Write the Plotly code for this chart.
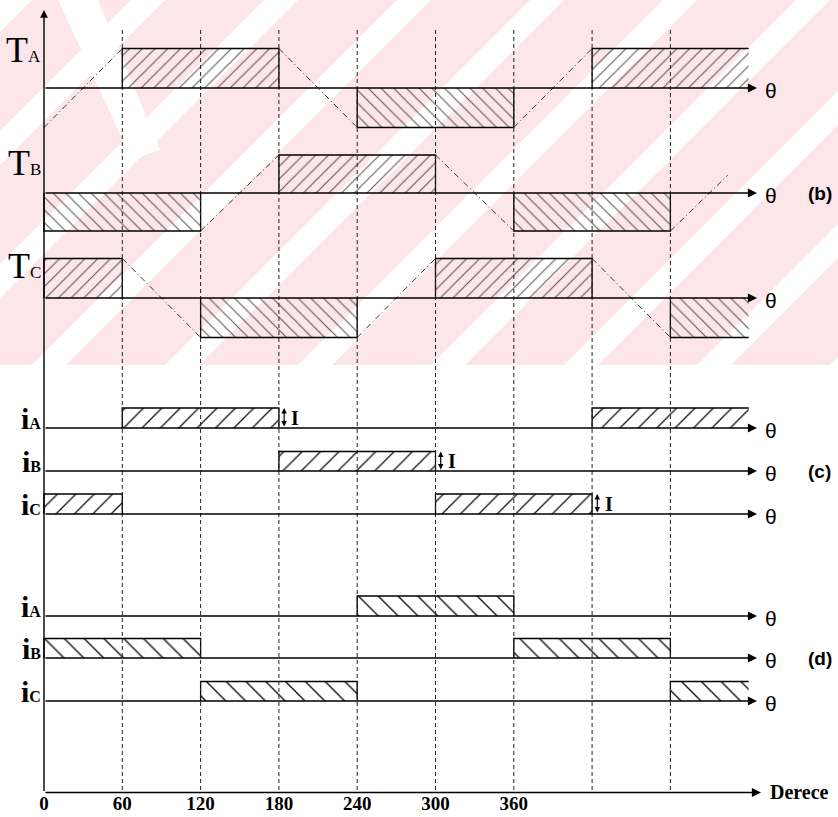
import plotly.graph_objects as go

# ---------------- data ----------------
tick_vals = [0, 60, 120, 180, 240, 300, 360]
tick_text = ["0", "60", "120", "180", "240", "300", "360"]
sector_lines = [60, 120, 180, 240, 300, 360, 420, 480]
theta_end = 540

# trapezoidal waveforms: breakpoints (deg) and normalized level
TA_theta = [0, 60, 180, 240, 360, 420, 540]
TA_level = [-1, 1, 1, -1, -1, 1, 1]
TB_theta = [0, 120, 180, 300, 360, 480, 524]
TB_level = [-1, -1, 1, 1, -1, -1, 0.47]
TC_theta = [0, 60, 120, 240, 300, 420, 480, 540]
TC_level = [1, 1, -1, -1, 1, 1, -1, -1]

# phase currents, on/off per 60-degree sector
sector_start = [0, 60, 120, 180, 240, 300, 360, 420, 480]
iA_c = [0, 1, 1, 0, 0, 0, 0, 1, 1]
iB_c = [0, 0, 0, 1, 1, 0, 0, 0, 0]
iC_c = [1, 0, 0, 0, 0, 1, 1, 0, 0]
iA_d = [0, 0, 0, 0, 1, 1, 0, 0, 0]
iB_d = [1, 1, 0, 0, 0, 0, 1, 1, 0]
iC_d = [0, 0, 1, 1, 0, 0, 0, 0, 1]
I_marks_c = [180, 300, 420]

# ---------------- geometry / style ----------------
W, H = 838, 817
B_MARGIN = 24
PLOT_H = H - B_MARGIN
X0_PX = 44
PX_PER_DEG = 1.305


def px2deg(px):
    return (px - X0_PX) / PX_PER_DEG


T_rows = [("A", TA_theta, TA_level, 88, 39.5, 50),
          ("B", TB_theta, TB_level, 193, 38, 163),
          ("C", TC_theta, TC_level, 298, 39.5, 266)]
c_rows = [("A", iA_c, 428, 20), ("B", iB_c, 471, 19.5), ("C", iC_c, 514, 20)]
d_rows = [("A", iA_d, 616, 20), ("B", iB_d, 658, 19.5), ("C", iC_d, 701, 19.5)]
axis_y = PLOT_H - 0.5
arrow_tip = px2deg(757)
theta_lbl_x = px2deg(763)
side_lbl_x = px2deg(806)
label_right = px2deg(43)

SERIF = "Liberation Serif"
SANS = "Liberation Sans"

fig = go.Figure()
shapes = []
ann = []

# ---------- faint pink watermark ----------
def dx(px):
    return px2deg(px)

PINK = "#fce6ea"
WM_H = 365
shapes.append(dict(type="rect", xref="x", yref="y", x0=dx(0), x1=dx(W), y0=0, y1=WM_H,
                   fillcolor=PINK, line=dict(width=0), layer="below"))
for k in range(-1, 9):
    a = 131 + 133 * k
    w = 34
    path = "M{},{} L{},{} L{},{} L{},{} Z".format(
        dx(a), 0, dx(a + w), 0, dx(a + w - WM_H), WM_H, dx(a - WM_H), WM_H)
    shapes.append(dict(type="path", xref="x", yref="y", path=path,
                       fillcolor="white", line=dict(width=0), layer="below"))
# left "\" white band
path = "M{},{} L{},{} L{},{} L{},{} Z".format(dx(58), 0, dx(98), 0, dx(160), 150, dx(132), 160)
shapes.append(dict(type="path", xref="x", yref="y", path=path,
                   fillcolor="white", line=dict(width=0), layer="below"))


def add_line(xs, ys, color="black", width=1.3, dash="solid"):
    fig.add_trace(go.Scatter(x=xs, y=ys, mode="lines",
                             line=dict(color=color, width=width, dash=dash),
                             hoverinfo="skip", showlegend=False))


def add_box(x0, x1, base, top, shape, size, solidity, fg, lw=1.3):
    fig.add_trace(go.Scatter(
        x=[x0, x1, x1, x0, x0], y=[base, base, top, top, base], mode="lines",
        line=dict(width=0, color="rgba(0,0,0,0)"), fill="toself",
        fillcolor="rgba(0,0,0,0)",
        fillpattern=dict(shape=shape, size=size, solidity=solidity,
                         fgcolor=fg, bgcolor="rgba(0,0,0,0)"),
        hoverinfo="skip", showlegend=False))
    xs = [x0, x0, x1]
    ys = [base, top, top]
    if x1 < theta_end:
        xs.append(x1)
        ys.append(base)
    add_line(xs, ys, width=lw)


def runs(values, starts, step=60):
    out, cur = [], None
    for s, v in zip(starts, values):
        if v:
            if cur is None:
                cur = [s, s + step]
            else:
                cur[1] = s + step
        else:
            if cur:
                out.append(tuple(cur))
                cur = None
    if cur:
        out.append(tuple(cur))
    return out


def arrow(x0, y0, x1, y1, width=1.4, size=1.3, side="end"):
    ann.append(dict(x=x1, y=y1, ax=x0, ay=y0, xref="x", yref="y", axref="x", ayref="y",
                    showarrow=True, arrowhead=2, arrowsize=size, arrowwidth=width,
                    arrowcolor="black", arrowside=side, text="", standoff=0,
                    startstandoff=0))


def text(x, y, t, size, family=SERIF, xanchor="left", yanchor="middle", weight="normal"):
    ann.append(dict(x=x, y=y, xref="x", yref="y", text=t, showarrow=False,
                    xanchor=xanchor, yanchor=yanchor,
                    font=dict(family=family, size=size, color="black", weight=weight)))


# ---------- (b) trapezoids ----------
for name, th, lv, base, amp, lbl_y in T_rows:
    for i in range(len(th) - 1):
        x0, x1, l0, l1 = th[i], th[i + 1], lv[i], lv[i + 1]
        if l0 == l1:
            add_box(x0, x1, base, base - amp * l0, "/" if l0 > 0 else "\\",
                    9, 0.13, "rgba(30,30,30,0.7)")
        else:
            add_line([x0, x1], [base - amp * l0, base - amp * l1],
                     color="#333", width=1, dash="6px,3px,1px,3px")
    arrow(0, base, arrow_tip, base)
    text(theta_lbl_x, base + 2, "θ", 21, family=SANS)
    text(label_right, lbl_y, "T<span style='font-size:17px'>" + name + "</span>", 36,
         xanchor="right")

# ---------- (c) currents ----------
for name, vals, base, amp in c_rows:
    for x0, x1 in runs(vals, sector_start):
        add_box(x0, x1, base, base - amp, "/", 13, 0.1, "#111")
    arrow(0, base, arrow_tip, base)
    text(theta_lbl_x, base + 2, "θ", 21, family=SANS)
    text(label_right, base - 10, "i<span style='font-size:16px'>" + name + "</span>", 30,
         xanchor="right", weight="bold")
for (name, vals, base, amp), xm in zip(c_rows, I_marks_c):
    arrow(xm + 4, base, xm + 4, base - amp, width=1.2, size=0.9, side="end+start")
    text(xm + 8, base - amp / 2, "I", 20, weight="bold")

# ---------- (d) currents ----------
for name, vals, base, amp in d_rows:
    for x0, x1 in runs(vals, sector_start):
        add_box(x0, x1, base, base - amp, "\\", 14, 0.1, "#111")
    arrow(0, base, arrow_tip, base)
    text(theta_lbl_x, base + 2, "θ", 21, family=SANS)
    text(label_right, base - 10, "i<span style='font-size:16px'>" + name + "</span>", 30,
         xanchor="right", weight="bold")

# panel tags
text(side_lbl_x, T_rows[1][3], "(b)", 19, family=SANS, weight="bold")
text(side_lbl_x, c_rows[1][2], "(c)", 19, family=SANS, weight="bold")
text(side_lbl_x, d_rows[1][2], "(d)", 19, family=SANS, weight="bold")

# sector dashed verticals
xs, ys = [], []
for s in sector_lines:
    xs += [s, s, None]
    ys += [30, axis_y, None]
add_line(xs, ys, color="#222", width=1, dash="4px,3px")

# main axes
arrow(0, axis_y, 0, 10, width=1.4, size=1.1)
arrow(0, axis_y, px2deg(761), axis_y)
text(px2deg(768), axis_y - 0.5, "Derece", 20, weight="bold")

fig.update_layout(
    width=W, height=H, template="none",
    margin=dict(l=0, r=0, t=0, b=B_MARGIN, pad=0),
    plot_bgcolor="white", paper_bgcolor="white",
    showlegend=False, shapes=shapes, annotations=ann,
    xaxis=dict(range=[px2deg(0), px2deg(W)], tickvals=tick_vals, ticktext=tick_text,
               showgrid=False, zeroline=False, showline=False, ticks="",
               automargin=False, fixedrange=True, ticklabelstandoff=-3,
               tickfont=dict(family=SERIF, size=19, color="black", weight="bold")),
    yaxis=dict(range=[PLOT_H, 0], visible=False, automargin=False, fixedrange=True),
)

fig.write_html("out.html", post_script="document.body.style.margin='0';",
               config={"displayModeBar": False})
